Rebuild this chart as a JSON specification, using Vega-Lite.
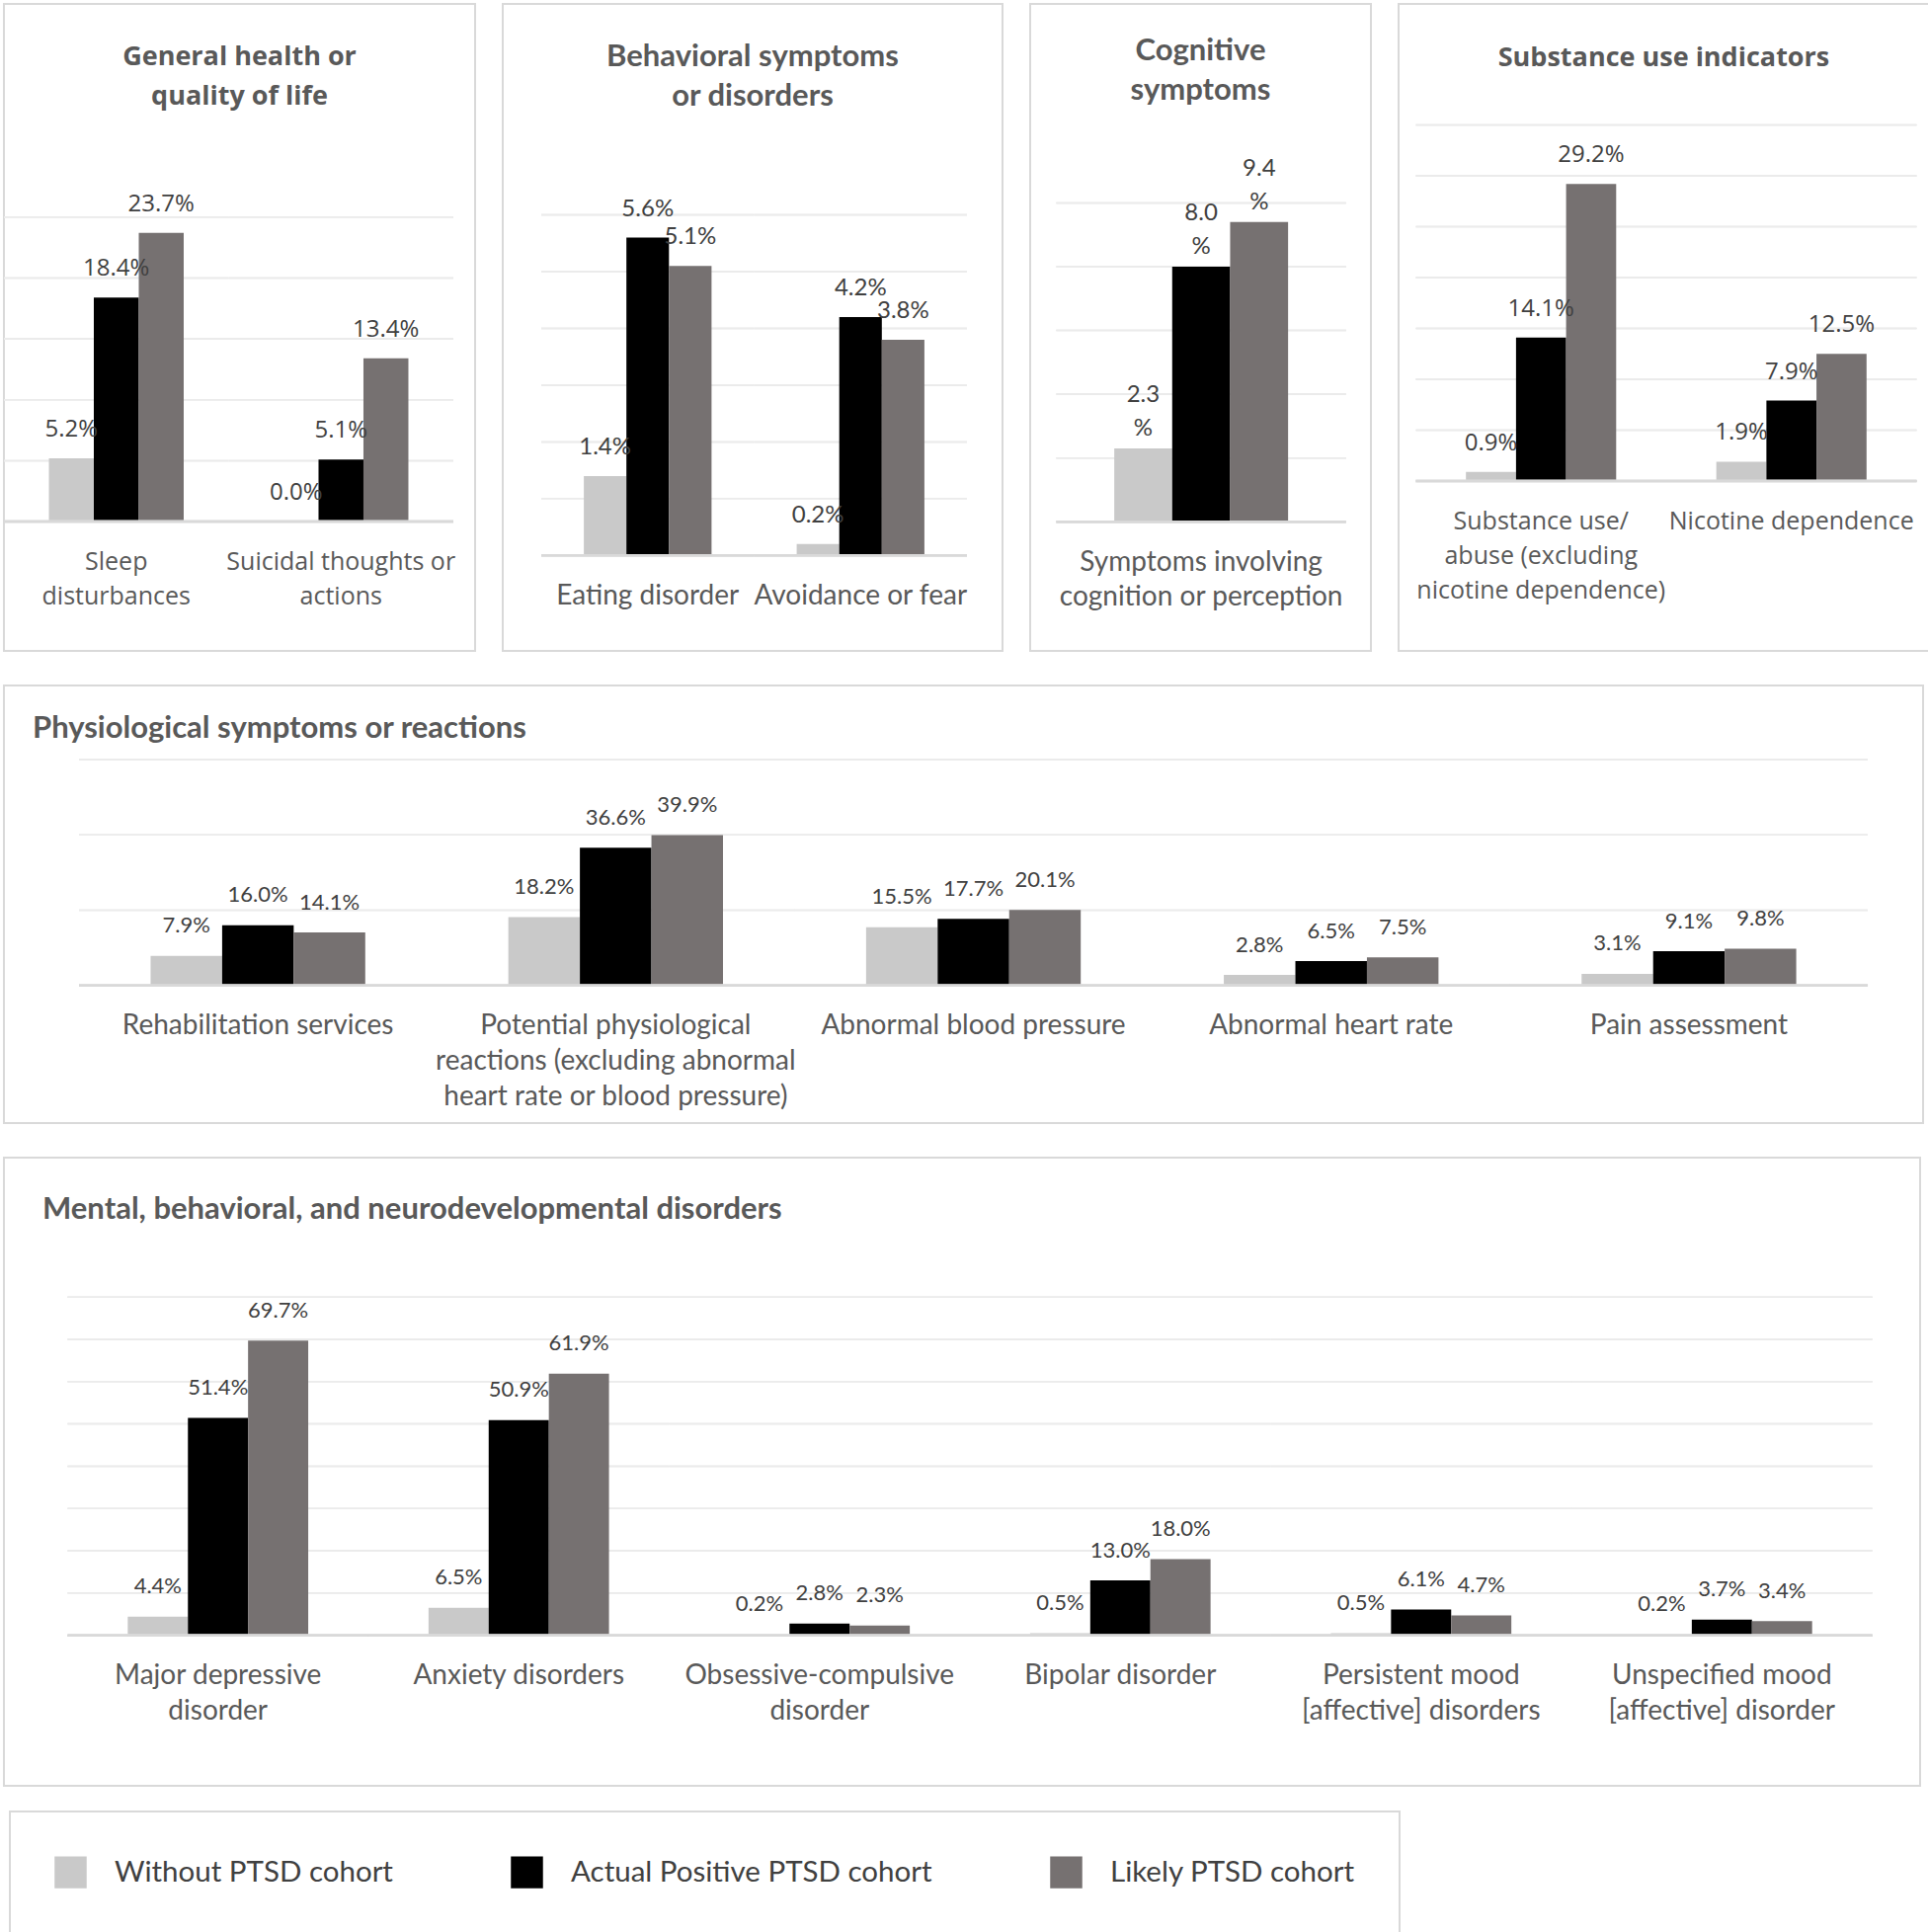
{
  "$schema": "https://vega.github.io/schema/vega-lite/v6.json",
  "background": "white",
  "padding": {"left": 2, "top": 3, "right": 2, "bottom": 0},
  "spacing": 33,
  "resolve": {"scale": {"xOffset": "independent"}},
  "datasets": {
    "p1": [
      {"cat": "Sleep disturbances", "cohort": "Without PTSD cohort", "v": 0.052},
      {"cat": "Sleep disturbances", "cohort": "Actual Positive PTSD cohort", "v": 0.184},
      {"cat": "Sleep disturbances", "cohort": "Likely PTSD cohort", "v": 0.237},
      {"cat": "Suicidal thoughts or actions", "cohort": "Without PTSD cohort", "v": 0.0},
      {"cat": "Suicidal thoughts or actions", "cohort": "Actual Positive PTSD cohort", "v": 0.051},
      {"cat": "Suicidal thoughts or actions", "cohort": "Likely PTSD cohort", "v": 0.134}
    ],
    "p2": [
      {"cat": "Eating disorder", "cohort": "Without PTSD cohort", "v": 0.014},
      {"cat": "Eating disorder", "cohort": "Actual Positive PTSD cohort", "v": 0.056},
      {"cat": "Eating disorder", "cohort": "Likely PTSD cohort", "v": 0.051},
      {"cat": "Avoidance or fear", "cohort": "Without PTSD cohort", "v": 0.002},
      {"cat": "Avoidance or fear", "cohort": "Actual Positive PTSD cohort", "v": 0.042},
      {"cat": "Avoidance or fear", "cohort": "Likely PTSD cohort", "v": 0.038}
    ],
    "p3": [
      {"cat": "Symptoms involving cognition or perception", "cohort": "Without PTSD cohort", "v": 0.023},
      {"cat": "Symptoms involving cognition or perception", "cohort": "Actual Positive PTSD cohort", "v": 0.080},
      {"cat": "Symptoms involving cognition or perception", "cohort": "Likely PTSD cohort", "v": 0.094}
    ],
    "p4": [
      {"cat": "Substance use/abuse (excluding nicotine dependence)", "cohort": "Without PTSD cohort", "v": 0.009},
      {"cat": "Substance use/abuse (excluding nicotine dependence)", "cohort": "Actual Positive PTSD cohort", "v": 0.141},
      {"cat": "Substance use/abuse (excluding nicotine dependence)", "cohort": "Likely PTSD cohort", "v": 0.292},
      {"cat": "Nicotine dependence", "cohort": "Without PTSD cohort", "v": 0.019},
      {"cat": "Nicotine dependence", "cohort": "Actual Positive PTSD cohort", "v": 0.079},
      {"cat": "Nicotine dependence", "cohort": "Likely PTSD cohort", "v": 0.125}
    ],
    "mid": [
      {"cat": "Rehabilitation services", "cohort": "Without PTSD cohort", "v": 0.079},
      {"cat": "Rehabilitation services", "cohort": "Actual Positive PTSD cohort", "v": 0.160},
      {"cat": "Rehabilitation services", "cohort": "Likely PTSD cohort", "v": 0.141},
      {"cat": "Potential physiological reactions (excluding abnormal heart rate or blood pressure)", "cohort": "Without PTSD cohort", "v": 0.182},
      {"cat": "Potential physiological reactions (excluding abnormal heart rate or blood pressure)", "cohort": "Actual Positive PTSD cohort", "v": 0.366},
      {"cat": "Potential physiological reactions (excluding abnormal heart rate or blood pressure)", "cohort": "Likely PTSD cohort", "v": 0.399},
      {"cat": "Abnormal blood pressure", "cohort": "Without PTSD cohort", "v": 0.155},
      {"cat": "Abnormal blood pressure", "cohort": "Actual Positive PTSD cohort", "v": 0.177},
      {"cat": "Abnormal blood pressure", "cohort": "Likely PTSD cohort", "v": 0.201},
      {"cat": "Abnormal heart rate", "cohort": "Without PTSD cohort", "v": 0.028},
      {"cat": "Abnormal heart rate", "cohort": "Actual Positive PTSD cohort", "v": 0.065},
      {"cat": "Abnormal heart rate", "cohort": "Likely PTSD cohort", "v": 0.075},
      {"cat": "Pain assessment", "cohort": "Without PTSD cohort", "v": 0.031},
      {"cat": "Pain assessment", "cohort": "Actual Positive PTSD cohort", "v": 0.091},
      {"cat": "Pain assessment", "cohort": "Likely PTSD cohort", "v": 0.098}
    ],
    "bot": [
      {"cat": "Major depressive disorder", "cohort": "Without PTSD cohort", "v": 0.044},
      {"cat": "Major depressive disorder", "cohort": "Actual Positive PTSD cohort", "v": 0.514},
      {"cat": "Major depressive disorder", "cohort": "Likely PTSD cohort", "v": 0.697},
      {"cat": "Anxiety disorders", "cohort": "Without PTSD cohort", "v": 0.065},
      {"cat": "Anxiety disorders", "cohort": "Actual Positive PTSD cohort", "v": 0.509},
      {"cat": "Anxiety disorders", "cohort": "Likely PTSD cohort", "v": 0.619},
      {"cat": "Obsessive-compulsive disorder", "cohort": "Without PTSD cohort", "v": 0.002},
      {"cat": "Obsessive-compulsive disorder", "cohort": "Actual Positive PTSD cohort", "v": 0.028},
      {"cat": "Obsessive-compulsive disorder", "cohort": "Likely PTSD cohort", "v": 0.023},
      {"cat": "Bipolar disorder", "cohort": "Without PTSD cohort", "v": 0.005},
      {"cat": "Bipolar disorder", "cohort": "Actual Positive PTSD cohort", "v": 0.130},
      {"cat": "Bipolar disorder", "cohort": "Likely PTSD cohort", "v": 0.180},
      {"cat": "Persistent mood [affective] disorders", "cohort": "Without PTSD cohort", "v": 0.005},
      {"cat": "Persistent mood [affective] disorders", "cohort": "Actual Positive PTSD cohort", "v": 0.061},
      {"cat": "Persistent mood [affective] disorders", "cohort": "Likely PTSD cohort", "v": 0.047},
      {"cat": "Unspecified mood [affective] disorder", "cohort": "Without PTSD cohort", "v": 0.002},
      {"cat": "Unspecified mood [affective] disorder", "cohort": "Actual Positive PTSD cohort", "v": 0.037},
      {"cat": "Unspecified mood [affective] disorder", "cohort": "Likely PTSD cohort", "v": 0.034}
    ]
  },
  "vconcat": [
    {
      "spacing": 26,
      "resolve": {"scale": {"xOffset": "independent"}},
      "hconcat": [
        {
          "width": 477, "height": 655,
          "title": {"text": ["General health or", "quality of life"], "font": "Open Sans", "fontSize": 27, "fontWeight": "bold", "color": "#595959", "lineHeight": 40, "anchor": "middle", "frame": "group", "baseline": "top", "offset": -108},
          "data": {"name": "p1"},
          "encoding": {
            "x": {"field": "cat", "type": "nominal", "sort": null, "title": null,
              "scale": {"paddingInner": 0, "paddingOuter": 0.0484, "align": 0},
              "axis": {"orient": "bottom", "offset": -131, "domain": false, "ticks": false, "tickSize": 0, "labelPadding": 28, "labelAngle": 0, "labelBaseline": "top", "labelFont": "Open Sans", "labelFontSize": 25, "labelColor": "#595959", "labelLineHeight": 35, "labelLimit": 0, "labelOverlap": false,
                "labelExpr": "datum.label == 'Sleep disturbances' ? ['Sleep','disturbances'] : ['Suicidal thoughts or','actions']"}},
            "y": {"field": "v", "type": "quantitative", "title": null, "axis": null,
              "scale": {"domain": [-0.1062, 0.4250], "nice": false, "zero": false}}
          },
          "layer": [
            {"mark": {"type": "tick", "orient": "horizontal", "size": 227.5, "thickness": 1.5, "color": "#ebebeb", "opacity": 1}, "encoding": {"y": {"datum": 0.05}}},
            {"mark": {"type": "tick", "orient": "horizontal", "size": 227.5, "thickness": 1.5, "color": "#ebebeb", "opacity": 1}, "encoding": {"y": {"datum": 0.1}}},
            {"mark": {"type": "tick", "orient": "horizontal", "size": 227.5, "thickness": 1.5, "color": "#ebebeb", "opacity": 1}, "encoding": {"y": {"datum": 0.15}}},
            {"mark": {"type": "tick", "orient": "horizontal", "size": 227.5, "thickness": 1.5, "color": "#ebebeb", "opacity": 1}, "encoding": {"y": {"datum": 0.2}}},
            {"mark": {"type": "tick", "orient": "horizontal", "size": 227.5, "thickness": 1.5, "color": "#ebebeb", "opacity": 1}, "encoding": {"y": {"datum": 0.25}}},
            {"mark": {"type": "bar"},
             "encoding": {
               "xOffset": {"field": "cohort", "type": "nominal", "sort": ["Without PTSD cohort", "Actual Positive PTSD cohort", "Likely PTSD cohort"], "scale": {"paddingInner": 0, "paddingOuter": 1.176}},
               "color": {"field": "cohort", "type": "nominal", "scale": {"domain": ["Without PTSD cohort", "Actual Positive PTSD cohort", "Likely PTSD cohort"], "range": ["#c9c9c9", "#000000", "#767171"]},
                 "legend": {"orient": "none", "legendX": 6, "legendY": 1830, "direction": "horizontal", "title": null}}}},
            {"mark": {"type": "text", "baseline": "bottom", "dy": -17, "font": "Open Sans", "fontSize": 24, "color": "#404040"},
             "encoding": {
               "xOffset": {"field": "cohort", "type": "nominal", "sort": ["Without PTSD cohort", "Actual Positive PTSD cohort", "Likely PTSD cohort"], "scale": {"paddingInner": 0, "paddingOuter": 1.176}},
               "text": {"field": "v", "type": "quantitative", "format": ".1%"}}},
            {"mark": {"type": "tick", "orient": "horizontal", "size": 227.5, "thickness": 2.5, "color": "#d9d9d9", "opacity": 1},
             "encoding": {"y": {"datum": 0}}}
          ]
        },
        {
          "width": 506, "height": 655,
          "title": {"text": ["Behavioral symptoms", "or disorders"], "font": "Lato", "fontSize": 31, "fontWeight": "bold", "color": "#595959", "lineHeight": 40, "anchor": "middle", "frame": "group", "baseline": "top", "offset": -110},
          "data": {"name": "p2"},
          "encoding": {
            "x": {"field": "cat", "type": "nominal", "sort": null, "title": null,
              "scale": {"paddingInner": 0, "paddingOuter": 0.174, "align": 0.52},
              "axis": {"orient": "bottom", "offset": -96.7, "domain": false, "ticks": false, "tickSize": 0, "labelPadding": 27, "labelAngle": 0, "labelBaseline": "top", "labelFont": "Lato", "labelFontSize": 28, "labelColor": "#595959", "labelLineHeight": 35, "labelLimit": 0, "labelOverlap": false}},
            "y": {"field": "v", "type": "quantitative", "title": null, "axis": null,
              "scale": {"domain": [-0.01683, 0.09718], "nice": false, "zero": false}}
          },
          "layer": [
            {"mark": {"type": "tick", "orient": "horizontal", "size": 215.5, "thickness": 1.5, "color": "#ebebeb", "opacity": 1}, "encoding": {"y": {"datum": 0.01}}},
            {"mark": {"type": "tick", "orient": "horizontal", "size": 215.5, "thickness": 1.5, "color": "#ebebeb", "opacity": 1}, "encoding": {"y": {"datum": 0.02}}},
            {"mark": {"type": "tick", "orient": "horizontal", "size": 215.5, "thickness": 1.5, "color": "#ebebeb", "opacity": 1}, "encoding": {"y": {"datum": 0.03}}},
            {"mark": {"type": "tick", "orient": "horizontal", "size": 215.5, "thickness": 1.5, "color": "#ebebeb", "opacity": 1}, "encoding": {"y": {"datum": 0.04}}},
            {"mark": {"type": "tick", "orient": "horizontal", "size": 215.5, "thickness": 1.5, "color": "#ebebeb", "opacity": 1}, "encoding": {"y": {"datum": 0.05}}},
            {"mark": {"type": "tick", "orient": "horizontal", "size": 215.5, "thickness": 1.5, "color": "#ebebeb", "opacity": 1}, "encoding": {"y": {"datum": 0.06}}},
            {"mark": {"type": "bar"},
             "encoding": {
               "xOffset": {"field": "cohort", "type": "nominal", "sort": ["Without PTSD cohort", "Actual Positive PTSD cohort", "Likely PTSD cohort"], "scale": {"paddingInner": 0, "paddingOuter": 1.2}},
               "color": {"field": "cohort", "type": "nominal", "scale": {"domain": ["Without PTSD cohort", "Actual Positive PTSD cohort", "Likely PTSD cohort"], "range": ["#c9c9c9", "#000000", "#767171"]},
                 "legend": {"orient": "none", "legendX": 6, "legendY": 1830, "direction": "horizontal", "title": null}}}},
            {"mark": {"type": "text", "baseline": "bottom", "dy": -17, "font": "Lato", "fontSize": 24, "color": "#404040"},
             "encoding": {
               "xOffset": {"field": "cohort", "type": "nominal", "sort": ["Without PTSD cohort", "Actual Positive PTSD cohort", "Likely PTSD cohort"], "scale": {"paddingInner": 0, "paddingOuter": 1.2}},
               "text": {"field": "v", "type": "quantitative", "format": ".1%"}}},
            {"mark": {"type": "tick", "orient": "horizontal", "size": 215.5, "thickness": 2.5, "color": "#d9d9d9", "opacity": 1},
             "encoding": {"y": {"datum": 0}}}
          ]
        },
        {
          "width": 345, "height": 655,
          "title": {"text": ["Cognitive", "symptoms"], "font": "Lato", "fontSize": 31, "fontWeight": "bold", "color": "#595959", "lineHeight": 40, "anchor": "middle", "frame": "group", "baseline": "top", "offset": -104},
          "data": {"name": "p3"},
          "encoding": {
            "x": {"field": "cat", "type": "nominal", "sort": null, "title": null,
              "scale": {"paddingInner": 0, "paddingOuter": 0.088, "align": 0.512},
              "axis": {"orient": "bottom", "offset": -130.8, "domain": false, "ticks": false, "tickSize": 0, "labelPadding": 27, "labelAngle": 0, "labelBaseline": "top", "labelFont": "Lato", "labelFontSize": 28, "labelColor": "#595959", "labelLineHeight": 35, "labelLimit": 0, "labelOverlap": false,
                "labelExpr": "['Symptoms involving','cognition or perception']"}},
            "y": {"field": "v", "type": "quantitative", "title": null, "axis": null,
              "scale": {"domain": [-0.04052, 0.16239], "nice": false, "zero": false}}
          },
          "layer": [
            {"mark": {"type": "tick", "orient": "horizontal", "size": 293.4, "thickness": 1.5, "color": "#ebebeb", "opacity": 1}, "encoding": {"y": {"datum": 0.02}}},
            {"mark": {"type": "tick", "orient": "horizontal", "size": 293.4, "thickness": 1.5, "color": "#ebebeb", "opacity": 1}, "encoding": {"y": {"datum": 0.04}}},
            {"mark": {"type": "tick", "orient": "horizontal", "size": 293.4, "thickness": 1.5, "color": "#ebebeb", "opacity": 1}, "encoding": {"y": {"datum": 0.06}}},
            {"mark": {"type": "tick", "orient": "horizontal", "size": 293.4, "thickness": 1.5, "color": "#ebebeb", "opacity": 1}, "encoding": {"y": {"datum": 0.08}}},
            {"mark": {"type": "tick", "orient": "horizontal", "size": 293.4, "thickness": 1.5, "color": "#ebebeb", "opacity": 1}, "encoding": {"y": {"datum": 0.1}}},
            {"mark": {"type": "bar"},
             "encoding": {
               "xOffset": {"field": "cohort", "type": "nominal", "sort": ["Without PTSD cohort", "Actual Positive PTSD cohort", "Likely PTSD cohort"], "scale": {"paddingInner": 0, "paddingOuter": 1.19}},
               "color": {"field": "cohort", "type": "nominal", "scale": {"domain": ["Without PTSD cohort", "Actual Positive PTSD cohort", "Likely PTSD cohort"], "range": ["#c9c9c9", "#000000", "#767171"]},
                 "legend": {"orient": "none", "legendX": 6, "legendY": 1830, "direction": "horizontal", "title": null}}}},
            {"mark": {"type": "text", "baseline": "bottom", "dy": -42, "lineHeight": 34, "font": "Lato", "fontSize": 24, "color": "#404040",
               "text": {"expr": "[format(datum.v * 100, '.1f'), '%']"}},
             "encoding": {
               "xOffset": {"field": "cohort", "type": "nominal", "sort": ["Without PTSD cohort", "Actual Positive PTSD cohort", "Likely PTSD cohort"], "scale": {"paddingInner": 0, "paddingOuter": 1.19}}}},
            {"mark": {"type": "tick", "orient": "horizontal", "size": 293.4, "thickness": 2.5, "color": "#d9d9d9", "opacity": 1},
             "encoding": {"y": {"datum": 0}}}
          ]
        },
        {
          "width": 537, "height": 655,
          "title": {"text": "Substance use indicators", "font": "Open Sans", "fontSize": 27, "fontWeight": "bold", "color": "#595959", "lineHeight": 40, "anchor": "middle", "frame": "group", "baseline": "top", "offset": -69},
          "data": {"name": "p4"},
          "encoding": {
            "x": {"field": "cat", "type": "nominal", "sort": null, "title": null,
              "scale": {"paddingInner": 0, "paddingOuter": 0.0592, "align": 0.583},
              "axis": {"orient": "bottom", "offset": -172, "domain": false, "ticks": false, "tickSize": 0, "labelPadding": 28, "labelAngle": 0, "labelBaseline": "top", "labelFont": "Open Sans", "labelFontSize": 25, "labelColor": "#595959", "labelLineHeight": 35, "labelLimit": 0, "labelOverlap": false,
                "labelExpr": "datum.label == 'Nicotine dependence' ? datum.label : ['Substance use/','abuse (excluding','nicotine dependence)']"}},
            "y": {"field": "v", "type": "quantitative", "title": null, "axis": null,
              "scale": {"domain": [-0.167, 0.46893], "nice": false, "zero": false}}
          },
          "layer": [
            {"mark": {"type": "tick", "orient": "horizontal", "size": 253.5, "thickness": 1.5, "color": "#ebebeb", "opacity": 1}, "encoding": {"y": {"datum": 0.05}}},
            {"mark": {"type": "tick", "orient": "horizontal", "size": 253.5, "thickness": 1.5, "color": "#ebebeb", "opacity": 1}, "encoding": {"y": {"datum": 0.1}}},
            {"mark": {"type": "tick", "orient": "horizontal", "size": 253.5, "thickness": 1.5, "color": "#ebebeb", "opacity": 1}, "encoding": {"y": {"datum": 0.15}}},
            {"mark": {"type": "tick", "orient": "horizontal", "size": 253.5, "thickness": 1.5, "color": "#ebebeb", "opacity": 1}, "encoding": {"y": {"datum": 0.2}}},
            {"mark": {"type": "tick", "orient": "horizontal", "size": 253.5, "thickness": 1.5, "color": "#ebebeb", "opacity": 1}, "encoding": {"y": {"datum": 0.25}}},
            {"mark": {"type": "tick", "orient": "horizontal", "size": 253.5, "thickness": 1.5, "color": "#ebebeb", "opacity": 1}, "encoding": {"y": {"datum": 0.3}}},
            {"mark": {"type": "tick", "orient": "horizontal", "size": 253.5, "thickness": 1.5, "color": "#ebebeb", "opacity": 1}, "encoding": {"y": {"datum": 0.35}}},
            {"mark": {"type": "bar"},
             "encoding": {
               "xOffset": {"field": "cohort", "type": "nominal", "sort": ["Without PTSD cohort", "Actual Positive PTSD cohort", "Likely PTSD cohort"], "scale": {"paddingInner": 0, "paddingOuter": 1.18}},
               "color": {"field": "cohort", "type": "nominal", "scale": {"domain": ["Without PTSD cohort", "Actual Positive PTSD cohort", "Likely PTSD cohort"], "range": ["#c9c9c9", "#000000", "#767171"]},
                 "legend": {"orient": "none", "legendX": 6, "legendY": 1830, "direction": "horizontal", "title": null}}}},
            {"mark": {"type": "text", "baseline": "bottom", "dy": -17, "font": "Open Sans", "fontSize": 24, "color": "#404040"},
             "encoding": {
               "xOffset": {"field": "cohort", "type": "nominal", "sort": ["Without PTSD cohort", "Actual Positive PTSD cohort", "Likely PTSD cohort"], "scale": {"paddingInner": 0, "paddingOuter": 1.18}},
               "text": {"field": "v", "type": "quantitative", "format": ".1%"}}},
            {"mark": {"type": "tick", "orient": "horizontal", "size": 253.5, "thickness": 2.5, "color": "#d9d9d9", "opacity": 1},
             "encoding": {"y": {"datum": 0}}}
          ]
        }
      ]
    },
    {
      "width": 1943, "height": 443,
      "title": {"text": "Physiological symptoms or reactions", "font": "Lato", "fontSize": 31, "fontWeight": "bold", "color": "#595959", "anchor": "start", "frame": "group", "baseline": "top", "offset": -60, "dx": 29},
      "data": {"name": "mid"},
      "encoding": {
        "x": {"field": "cat", "type": "nominal", "sort": null, "title": null,
          "scale": {"paddingInner": 0, "paddingOuter": 0.1822, "align": 0.576},
          "axis": {"orient": "bottom", "offset": -139.2, "domain": false, "ticks": false, "tickSize": 0, "labelPadding": 27, "labelAngle": 0, "labelBaseline": "top", "labelFont": "Lato", "labelFontSize": 28, "labelColor": "#595959", "labelLineHeight": 36, "labelLimit": 0, "labelOverlap": false,
            "labelExpr": "indexof(datum.label, 'Potential') == 0 ? ['Potential physiological','reactions (excluding abnormal','heart rate or blood pressure)'] : datum.label"}},
        "y": {"field": "v", "type": "quantitative", "title": null, "axis": null,
          "scale": {"domain": [-0.365, 0.79654], "nice": false, "zero": false}}
      },
      "layer": [
        {"mark": {"type": "tick", "orient": "horizontal", "size": 362.2, "thickness": 1.5, "color": "#ebebeb", "opacity": 1}, "encoding": {"y": {"datum": 0.2}}},
        {"mark": {"type": "tick", "orient": "horizontal", "size": 362.2, "thickness": 1.5, "color": "#ebebeb", "opacity": 1}, "encoding": {"y": {"datum": 0.4}}},
        {"mark": {"type": "tick", "orient": "horizontal", "size": 362.2, "thickness": 1.5, "color": "#ebebeb", "opacity": 1}, "encoding": {"y": {"datum": 0.6}}},
        {"mark": {"type": "bar"},
         "encoding": {
           "xOffset": {"field": "cohort", "type": "nominal", "sort": ["Without PTSD cohort", "Actual Positive PTSD cohort", "Likely PTSD cohort"], "scale": {"paddingInner": 0, "paddingOuter": 1.19}},
           "color": {"field": "cohort", "type": "nominal", "scale": {"domain": ["Without PTSD cohort", "Actual Positive PTSD cohort", "Likely PTSD cohort"], "range": ["#c9c9c9", "#000000", "#767171"]},
             "legend": {"orient": "none", "legendX": 6, "legendY": 1830, "direction": "horizontal", "title": null}}}},
        {"mark": {"type": "text", "baseline": "bottom", "dy": -18.5, "font": "Lato", "fontSize": 22, "color": "#404040"},
         "encoding": {
           "xOffset": {"field": "cohort", "type": "nominal", "sort": ["Without PTSD cohort", "Actual Positive PTSD cohort", "Likely PTSD cohort"], "scale": {"paddingInner": 0, "paddingOuter": 1.19}},
           "text": {"field": "v", "type": "quantitative", "format": ".1%"}}},
        {"mark": {"type": "tick", "orient": "horizontal", "size": 362.2, "thickness": 2.5, "color": "#d9d9d9", "opacity": 1},
         "encoding": {"y": {"datum": 0}}}
      ]
    },
    {
      "width": 1940, "height": 636,
      "title": {"text": "Mental, behavioral, and neurodevelopmental disorders", "font": "Lato", "fontSize": 31, "fontWeight": "bold", "color": "#595959", "anchor": "start", "frame": "group", "baseline": "top", "offset": -69, "dx": 39},
      "data": {"name": "bot"},
      "encoding": {
        "x": {"field": "cat", "type": "nominal", "sort": null, "title": null,
          "scale": {"paddingInner": 0, "paddingOuter": 0.1853, "align": 0.571},
          "axis": {"orient": "bottom", "offset": -152.3, "domain": false, "ticks": false, "tickSize": 0, "labelPadding": 27, "labelAngle": 0, "labelBaseline": "top", "labelFont": "Lato", "labelFontSize": 28, "labelColor": "#595959", "labelLineHeight": 36, "labelLimit": 0, "labelOverlap": false,
            "labelExpr": "datum.label == 'Major depressive disorder' ? ['Major depressive','disorder'] : datum.label == 'Obsessive-compulsive disorder' ? ['Obsessive-compulsive','disorder'] : datum.label == 'Persistent mood [affective] disorders' ? ['Persistent mood','[affective] disorders'] : datum.label == 'Unspecified mood [affective] disorder' ? ['Unspecified mood','[affective] disorder'] : datum.label"}},
        "y": {"field": "v", "type": "quantitative", "title": null, "axis": null,
          "scale": {"domain": [-0.3557, 1.12961], "nice": false, "zero": false}}
      },
      "layer": [
        {"mark": {"type": "tick", "orient": "horizontal", "size": 304.6, "thickness": 1.5, "color": "#ebebeb", "opacity": 1}, "encoding": {"y": {"datum": 0.1}}},
        {"mark": {"type": "tick", "orient": "horizontal", "size": 304.6, "thickness": 1.5, "color": "#ebebeb", "opacity": 1}, "encoding": {"y": {"datum": 0.2}}},
        {"mark": {"type": "tick", "orient": "horizontal", "size": 304.6, "thickness": 1.5, "color": "#ebebeb", "opacity": 1}, "encoding": {"y": {"datum": 0.3}}},
        {"mark": {"type": "tick", "orient": "horizontal", "size": 304.6, "thickness": 1.5, "color": "#ebebeb", "opacity": 1}, "encoding": {"y": {"datum": 0.4}}},
        {"mark": {"type": "tick", "orient": "horizontal", "size": 304.6, "thickness": 1.5, "color": "#ebebeb", "opacity": 1}, "encoding": {"y": {"datum": 0.5}}},
        {"mark": {"type": "tick", "orient": "horizontal", "size": 304.6, "thickness": 1.5, "color": "#ebebeb", "opacity": 1}, "encoding": {"y": {"datum": 0.6}}},
        {"mark": {"type": "tick", "orient": "horizontal", "size": 304.6, "thickness": 1.5, "color": "#ebebeb", "opacity": 1}, "encoding": {"y": {"datum": 0.7}}},
        {"mark": {"type": "tick", "orient": "horizontal", "size": 304.6, "thickness": 1.5, "color": "#ebebeb", "opacity": 1}, "encoding": {"y": {"datum": 0.8}}},
        {"mark": {"type": "bar"},
         "encoding": {
           "xOffset": {"field": "cohort", "type": "nominal", "sort": ["Without PTSD cohort", "Actual Positive PTSD cohort", "Likely PTSD cohort"], "scale": {"paddingInner": 0, "paddingOuter": 1.19}},
           "color": {"field": "cohort", "type": "nominal", "scale": {"domain": ["Without PTSD cohort", "Actual Positive PTSD cohort", "Likely PTSD cohort"], "range": ["#c9c9c9", "#000000", "#767171"]},
             "legend": {"orient": "none", "legendX": 6, "legendY": 1830, "direction": "horizontal", "title": null}}}},
        {"mark": {"type": "text", "baseline": "bottom", "dy": -18.5, "font": "Lato", "fontSize": 22, "color": "#404040"},
         "encoding": {
           "xOffset": {"field": "cohort", "type": "nominal", "sort": ["Without PTSD cohort", "Actual Positive PTSD cohort", "Likely PTSD cohort"], "scale": {"paddingInner": 0, "paddingOuter": 1.19}},
           "text": {"field": "v", "type": "quantitative", "format": ".1%"}}},
        {"mark": {"type": "tick", "orient": "horizontal", "size": 304.6, "thickness": 2.5, "color": "#d9d9d9", "opacity": 1},
         "encoding": {"y": {"datum": 0}}}
      ]
    }
  ],
  "config": {
    "view": {"stroke": "#d9d9d9", "strokeWidth": 2, "fill": "white"},
    "legend": {"symbolType": "square", "symbolSize": 1056, "symbolStrokeWidth": 0, "symbolOpacity": 1, "labelFont": "Lato", "labelFontSize": 29.5, "labelColor": "#404040", "labelOffset": 28, "labelLimit": 0, "columnPadding": 119, "padding": 45, "strokeColor": "#d9d9d9", "strokeWidth": 2, "fillColor": "white"}
  }
}
